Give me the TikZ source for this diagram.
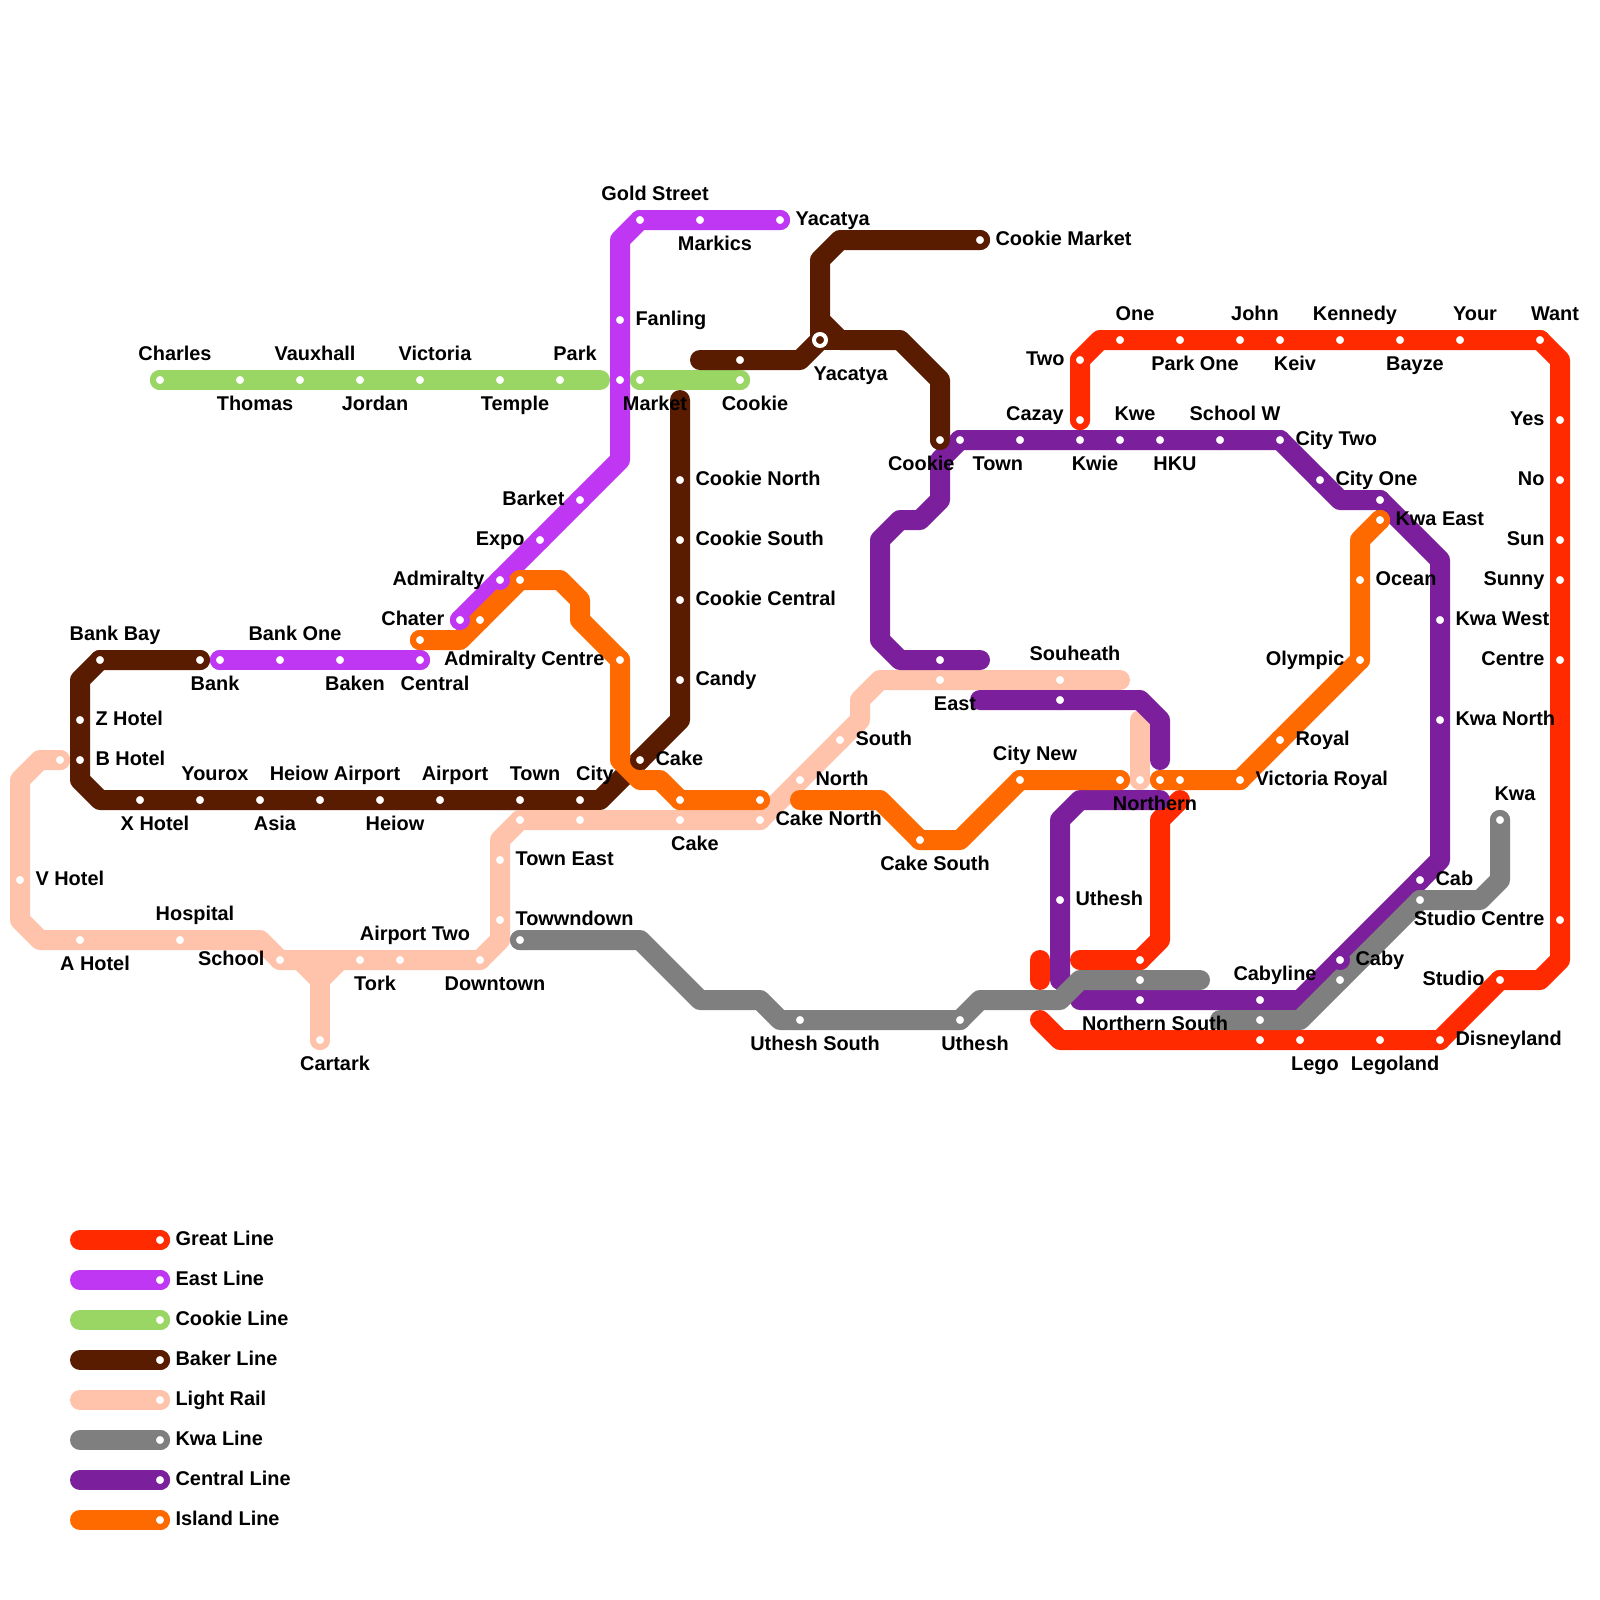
\documentclass[tikz,border=0pt]{standalone}
\usepackage{fontspec}
\setmainfont{Liberation Sans}
\definecolor{great}{HTML}{FF2A00}
\definecolor{east}{HTML}{BF37F2}
\definecolor{cookie}{HTML}{99D663}
\definecolor{baker}{HTML}{5A1C00}
\definecolor{light}{HTML}{FFC2AB}
\definecolor{kwa}{HTML}{7F7F7F}
\definecolor{central}{HTML}{7B1F9C}
\definecolor{island}{HTML}{FF6A00}
\begin{document}
\begin{tikzpicture}[x=0.25cm,y=-0.25cm,
  font=\bfseries\fontsize{7.08pt}{8.5pt}\selectfont,
  ln/.style={draw=#1,line width=0.25cm,line cap=round,line join=round},
  stn/.style={circle,fill=white,draw=#1,line width=0.075cm,minimum size=0.175cm,inner sep=0pt},
  ichg/.style={circle,fill=baker,draw=white,line width=0.05cm,minimum size=0.15cm,inner sep=0pt},
  lbl/.style={inner sep=0pt,text=black},
  lbla/.style={lbl,anchor=base,xshift=0.1875cm,yshift=0.25cm},
  lblb/.style={lbl,anchor=base,xshift=0.1875cm,yshift=-0.375cm},
  lblr/.style={lbl,anchor=base west,xshift=0.1875cm,yshift=-0.0625cm},
  lbll/.style={lbl,anchor=base east,xshift=-0.1875cm,yshift=-0.0625cm},
  lblbl/.style={lbl,anchor=base east,xshift=0.1875cm,yshift=-0.375cm},
  lblbr/.style={lbl,anchor=base west,xshift=0.15cm,yshift=-0.375cm}]
\path[use as bounding box,fill=white] (0,0) rectangle (80,80);
% lines
\draw[ln=great] (54,21) -- (54,18) -- (55,17) -- (77,17) -- (78,18) -- (78,48) -- (77,49) -- (75,49) -- (72,52) -- (53,52) -- (52,51);
\draw[ln=great] (52,48) -- (52,49);
\draw[ln=great] (59,40) -- (58,41) -- (58,47) -- (57,48) -- (54,48);
\draw[ln=east] (39,11) -- (32,11) -- (31,12) -- (31,23) -- (23,31);
\draw[ln=east] (11,33) -- (21,33);
\draw[ln=cookie] (8,19) -- (30,19);
\draw[ln=cookie] (32,19) -- (37,19);
\draw[ln=baker] (10,33) -- (5,33) -- (4,34) -- (4,39) -- (5,40) -- (30,40) -- (34,36) -- (34,20);
\draw[ln=baker] (35,18) -- (40,18) -- (41,17);
\draw[ln=baker] (49,12) -- (42,12) -- (41,13) -- (41,16) -- (42,17) -- (45,17) -- (47,19) -- (47,22);
\draw[ln=baker] (41,16) -- (41,17) -- (42,17);
\draw[ln=light] (3,38) -- (2,38) -- (1,39) -- (1,46) -- (2,47) -- (13,47) -- (14,48) -- (24,48) -- (25,47) -- (25,42) -- (26,41) -- (38,41) -- (43,36) -- (43,35) -- (44,34) -- (56,34);
\draw[ln=light] (15,48) -- (16,49) -- (17,48);
\draw[ln=light] (16,49) -- (16,52);
\draw[ln=light] (57,36) -- (57,39);
\draw[ln=central] (48,22) -- (47,23) -- (47,25) -- (46,26) -- (45,26) -- (44,27) -- (44,32) -- (45,33) -- (49,33);
\draw[ln=central] (48,22) -- (64,22) -- (67,25) -- (69,25) -- (72,28) -- (72,43) -- (65,50) -- (54,50);
\draw[ln=central] (49,35) -- (57,35) -- (58,36) -- (58,38);
\draw[ln=central] (53,49) -- (53,41) -- (54,40) -- (58,40);
\draw[ln=kwa] (26,47) -- (32,47) -- (35,50) -- (38,50) -- (39,51) -- (48,51) -- (49,50) -- (53,50) -- (54,49) -- (60,49);
\draw[ln=kwa] (61,51) -- (65,51) -- (71,45) -- (74,45) -- (75,44) -- (75,41);
\draw[ln=island] (21,32) -- (23,32) -- (26,29) -- (28,29) -- (29,30) -- (29,31) -- (31,33) -- (31,38) -- (32,39) -- (33,39) -- (34,40) -- (38,40);
\draw[ln=island] (40,40) -- (44,40) -- (46,42) -- (48,42) -- (51,39) -- (56,39);
\draw[ln=island] (58,39) -- (62,39) -- (68,33) -- (68,27) -- (69,26);
% great line
\node[stn=great] (two) at (54,18) {}; \node[lbll] (twot) at (two) {Two};
\node[stn=great] (greatc) at (54,21) {};
\node[stn=great] (one) at (56,17) {}; \node[lbla] (onet) at (one) {One};
\node[stn=great] (parkone) at (59,17) {}; \node[lblb] (parkonet) at (parkone) {Park One};
\node[stn=great] (john) at (62,17) {}; \node[lbla] (johnt) at (john) {John};
\node[stn=great] (keiv) at (64,17) {}; \node[lblb] (keivt) at (keiv) {Keiv};
\node[stn=great] (kennedy) at (67,17) {}; \node[lbla] (kennedyt) at (kennedy) {Kennedy};
\node[stn=great] (bayze) at (70,17) {}; \node[lblb] (bayzet) at (bayze) {Bayze};
\node[stn=great] (your) at (73,17) {}; \node[lbla] (yourt) at (your) {Your};
\node[stn=great] (want) at (77,17) {}; \node[lbla] (wantt) at (want) {Want};
\node[stn=great] (yes) at (78,21) {}; \node[lbll] (yest) at (yes) {Yes};
\node[stn=great] (no) at (78,24) {}; \node[lbll] (not) at (no) {No};
\node[stn=great] (sun) at (78,27) {}; \node[lbll] (sunt) at (sun) {Sun};
\node[stn=great] (sunny) at (78,29) {}; \node[lbll] (sunnyt) at (sunny) {Sunny};
\node[stn=great] (centre) at (78,33) {}; \node[lbll] (centret) at (centre) {Centre};
\node[stn=great] (studioc) at (78,46) {}; \node[lbll] (studioct) at (studioc) {Studio Centre};
\node[stn=great] (studio) at (75,49) {}; \node[lbll] (studiot) at (studio) {Studio};
\node[stn=great] (disney) at (72,52) {}; \node[lblr] (disneyt) at (disney) {Disneyland};
\node[stn=great] (legoland) at (69,52) {}; \node[lblb] (legolandt) at (legoland) {Legoland};
\node[stn=great] (lego) at (65,52) {}; \node[lblb] (legot) at (lego) {Lego};
\node[stn=great] (greats) at (63,52) {};
\node[stn=great] (greatn) at (57,48) {};
% east line
\node[stn=east] (gold) at (32,11) {}; \node[lbla] (goldt) at (gold) {Gold Street};
\node[stn=east] (markics) at (35,11) {}; \node[lblb] (markicst) at (markics) {Markics};
\node[stn=east] (yacatyae) at (39,11) {}; \node[lblr] (yacatyaet) at (yacatyae) {Yacatya};
\node[stn=east] (fanling) at (31,16) {}; \node[lblr] (fanlingt) at (fanling) {Fanling};
\node[stn=east] (eastm) at (31,19) {};
\node[stn=east] (barket) at (29,25) {}; \node[lbll] (barkett) at (barket) {Barket};
\node[stn=east] (expo) at (27,27) {}; \node[lbll] (expot) at (expo) {Expo};
\node[stn=east] (admiralty) at (25,29) {}; \node[lbll] (admiraltyt) at (admiralty) {Admiralty};
\node[stn=east] (chater) at (23,31) {}; \node[lbll] (chatert) at (chater) {Chater};
\node[stn=east] (eastb) at (11,33) {};
\node[stn=east] (bankone) at (14,33) {}; \node[lbla] (bankonet) at (bankone) {Bank One};
\node[stn=east] (baken) at (17,33) {}; \node[lblb] (bakent) at (baken) {Baken};
\node[stn=east] (centrale) at (21,33) {}; \node[lblb] (centralet) at (centrale) {Central};
% cookie line
\node[stn=cookie] (charles) at (8,19) {}; \node[lbla] (charlest) at (charles) {Charles};
\node[stn=cookie] (thomas) at (12,19) {}; \node[lblb] (thomast) at (thomas) {Thomas};
\node[stn=cookie] (vauxhall) at (15,19) {}; \node[lbla] (vauxhallt) at (vauxhall) {Vauxhall};
\node[stn=cookie] (jordan) at (18,19) {}; \node[lblb] (jordant) at (jordan) {Jordan};
\node[stn=cookie] (victoria) at (21,19) {}; \node[lbla] (victoriat) at (victoria) {Victoria};
\node[stn=cookie] (temple) at (25,19) {}; \node[lblb] (templet) at (temple) {Temple};
\node[stn=cookie] (park) at (28,19) {}; \node[lbla] (parkt) at (park) {Park};
\node[stn=cookie] (market) at (32,19) {}; \node[lblb] (markett) at (market) {Market};
\node[stn=cookie] (cookiec) at (37,19) {}; \node[lblb] (cookiect) at (cookiec) {Cookie};
% baker line
\node[stn=baker] (bankbay) at (5,33) {}; \node[lbla] (bankbayt) at (bankbay) {Bank Bay};
\node[stn=baker] (bank) at (10,33) {}; \node[lblb] (bankt) at (bank) {Bank};
\node[stn=baker] (zhotel) at (4,36) {}; \node[lblr] (zhotelt) at (zhotel) {Z Hotel};
\node[stn=baker] (bhotel) at (4,38) {}; \node[lblr] (bhotelt) at (bhotel) {B Hotel};
\node[stn=baker] (xhotel) at (7,40) {}; \node[lblb] (xhotelt) at (xhotel) {X Hotel};
\node[stn=baker] (yourox) at (10,40) {}; \node[lbla] (youroxt) at (yourox) {Yourox};
\node[stn=baker] (asia) at (13,40) {}; \node[lblb] (asiat) at (asia) {Asia};
\node[stn=baker] (heiowa) at (16,40) {}; \node[lbla] (heiowat) at (heiowa) {Heiow Airport};
\node[stn=baker] (heiow) at (19,40) {}; \node[lblb] (heiowt) at (heiow) {Heiow};
\node[stn=baker] (airport) at (22,40) {}; \node[lbla] (airportt) at (airport) {Airport};
\node[stn=baker] (townb) at (26,40) {}; \node[lbla] (townbt) at (townb) {Town};
\node[stn=baker] (city) at (29,40) {}; \node[lbla] (cityt) at (city) {City};
\node[stn=baker] (cakeb) at (32,38) {}; \node[lblr] (cakebt) at (cakeb) {Cake};
\node[stn=baker] (candy) at (34,34) {}; \node[lblr] (candyt) at (candy) {Candy};
\node[stn=baker] (cookiecen) at (34,30) {}; \node[lblr] (cookiecent) at (cookiecen) {Cookie Central};
\node[stn=baker] (cookies) at (34,27) {}; \node[lblr] (cookiest) at (cookies) {Cookie South};
\node[stn=baker] (cookien) at (34,24) {}; \node[lblr] (cookient) at (cookien) {Cookie North};
\node[stn=baker] (bakern) at (37,18) {};
\node[ichg] (yacatyab) at (41,17) {}; \node[lbl,anchor=base west,xshift=-0.0875cm,yshift=-0.5cm] (yacatyabt) at (yacatyab) {Yacatya};
\node[stn=baker] (cookiem) at (49,12) {}; \node[lblr] (cookiemt) at (cookiem) {Cookie Market};
\node[stn=baker] (cookieb) at (47,22) {}; \node[lblbl] (cookiebt) at (cookieb) {Cookie};
% light rail
\node[stn=light] (lightv) at (3,38) {};
\node[stn=light] (vhotel) at (1,44) {}; \node[lblr] (vhotelt) at (vhotel) {V Hotel};
\node[stn=light] (ahotel) at (4,47) {}; \node[lblb] (ahotelt) at (ahotel) {A Hotel};
\node[stn=light] (hospital) at (9,47) {}; \node[lbla] (hospitalt) at (hospital) {Hospital};
\node[stn=light] (school) at (14,48) {}; \node[lbll] (schoolt) at (school) {School};
\node[stn=light] (tork) at (18,48) {}; \node[lblb] (torkt) at (tork) {Tork};
\node[stn=light] (airporttwo) at (20,48) {}; \node[lbla] (airporttwot) at (airporttwo) {Airport Two};
\node[stn=light] (downtown) at (24,48) {}; \node[lblb] (downtownt) at (downtown) {Downtown};
\node[stn=light] (cartark) at (16,52) {}; \node[lblb] (cartarkt) at (cartark) {Cartark};
\node[stn=light] (towwn) at (25,46) {}; \node[lblr] (towwnt) at (towwn) {Towwndown};
\node[stn=light] (towneast) at (25,43) {}; \node[lblr] (towneastt) at (towneast) {Town East};
\node[stn=light] (lightt) at (26,41) {};
\node[stn=light] (lightc) at (29,41) {};
\node[stn=light] (cakel) at (34,41) {}; \node[lblb] (cakelt) at (cakel) {Cake};
\node[stn=light] (caken) at (38,41) {}; \node[lblr] (cakent) at (caken) {Cake North};
\node[stn=light] (north) at (40,39) {}; \node[lblr] (northt) at (north) {North};
\node[stn=light] (south) at (42,37) {}; \node[lblr] (southt) at (south) {South};
\node[stn=light] (eastl) at (47,34) {}; \node[lblb] (eastlt) at (eastl) {East};
\node[stn=light] (souheath) at (53,34) {}; \node[lbla] (souheatht) at (souheath) {Souheath};
\node[stn=light] (northern) at (57,39) {}; \node[lblb] (northernt) at (northern) {Northern};
% central line
\node[stn=central] (townc) at (48,22) {}; \node[lblbr] (towenct) at (townc) {Town};
\node[stn=central] (cazay) at (51,22) {}; \node[lbla] (cazayt) at (cazay) {Cazay};
\node[stn=central] (kwie) at (54,22) {}; \node[lblb] (kwiet) at (kwie) {Kwie};
\node[stn=central] (kwe) at (56,22) {}; \node[lbla] (kwet) at (kwe) {Kwe};
\node[stn=central] (hku) at (58,22) {}; \node[lblb] (hkut) at (hku) {HKU};
\node[stn=central] (schoolw) at (61,22) {}; \node[lbla] (schoolwt) at (schoolw) {School W};
\node[stn=central] (citytwo) at (64,22) {}; \node[lblr] (citytwot) at (citytwo) {City Two};
\node[stn=central] (cityone) at (66,24) {}; \node[lblr] (cityonet) at (cityone) {City One};
\node[stn=central] (centralk) at (69,25) {};
\node[stn=central] (kwawest) at (72,31) {}; \node[lblr] (kwawestt) at (kwawest) {Kwa West};
\node[stn=central] (kwanorth) at (72,36) {}; \node[lblr] (kwanortht) at (kwanorth) {Kwa North};
\node[stn=central] (cab) at (71,44) {}; \node[lblr] (cabt) at (cab) {Cab};
\node[stn=central] (caby) at (67,48) {}; \node[lblr] (cabyt) at (caby) {Caby};
\node[stn=central] (cabyline) at (63,50) {}; \node[lbla] (cabylinet) at (cabyline) {Cabyline};
\node[stn=central] (norths) at (57,50) {}; \node[lblb] (northst) at (norths) {Northern South};
\node[stn=central] (uthesh) at (53,45) {}; \node[lblr] (uthesht) at (uthesh) {Uthesh};
\node[stn=central] (centrals) at (53,35) {};
\node[stn=central] (centrale2) at (47,33) {};
% kwa line
\node[stn=kwa] (kwat) at (26,47) {};
\node[stn=kwa] (utheshs) at (40,51) {}; \node[lblb] (utheshst) at (utheshs) {Uthesh South};
\node[stn=kwa] (utheshk) at (48,51) {}; \node[lblb] (utheshkt) at (utheshk) {Uthesh};
\node[stn=kwa] (kwan) at (57,49) {};
\node[stn=kwa] (kwab) at (63,51) {};
\node[stn=kwa] (kwac) at (67,49) {};
\node[stn=kwa] (kwas) at (71,45) {};
\node[stn=kwa] (kwaend) at (75,41) {}; \node[lbla] (kwaendt) at (kwaend) {Kwa};
% island line
\node[stn=island] (islandw) at (21,32) {};
\node[stn=island] (islanda) at (24,31) {};
\node[stn=island] (islandb) at (26,29) {};
\node[stn=island] (admcentre) at (31,33) {}; \node[lbll] (admcentret) at (admcentre) {Admiralty Centre};
\node[stn=island] (islandc) at (34,40) {};
\node[stn=island] (islandd) at (38,40) {};
\node[stn=island] (cakes) at (46,42) {}; \node[lblb] (cakest) at (cakes) {Cake South};
\node[stn=island] (citynew) at (51,39) {}; \node[lbla] (citynewt) at (citynew) {City New};
\node[stn=island] (islande) at (56,39) {};
\node[stn=island] (islandf) at (58,39) {};
\node[stn=island] (islandg) at (59,39) {};
\node[stn=island] (vicroyal) at (62,39) {}; \node[lblr] (vicroyalt) at (vicroyal) {Victoria Royal};
\node[stn=island] (royal) at (64,37) {}; \node[lblr] (royalt) at (royal) {Royal};
\node[stn=island] (olympic) at (68,33) {}; \node[lbll] (olympict) at (olympic) {Olympic};
\node[stn=island] (ocean) at (68,29) {}; \node[lblr] (oceant) at (ocean) {Ocean};
\node[stn=island] (kwaeast) at (69,26) {}; \node[lblr] (kwaeastt) at (kwaeast) {Kwa East};
% key
\draw[ln=great] (4,62) -- (8,62);
\draw[ln=east] (4,64) -- (8,64);
\draw[ln=cookie] (4,66) -- (8,66);
\draw[ln=baker] (4,68) -- (8,68);
\draw[ln=light] (4,70) -- (8,70);
\draw[ln=kwa] (4,72) -- (8,72);
\draw[ln=central] (4,74) -- (8,74);
\draw[ln=island] (4,76) -- (8,76);
\node[stn=great] (key1) at (8,62) {}; \node[lblr] (key1t) at (key1) {Great Line};
\node[stn=east] (key2) at (8,64) {}; \node[lblr] (key2t) at (key2) {East Line};
\node[stn=cookie] (key3) at (8,66) {}; \node[lblr] (key3t) at (key3) {Cookie Line};
\node[stn=baker] (key4) at (8,68) {}; \node[lblr] (key4t) at (key4) {Baker Line};
\node[stn=light] (key5) at (8,70) {}; \node[lblr] (key5t) at (key5) {Light Rail};
\node[stn=kwa] (key6) at (8,72) {}; \node[lblr] (key6t) at (key6) {Kwa Line};
\node[stn=central] (key7) at (8,74) {}; \node[lblr] (key7t) at (key7) {Central Line};
\node[stn=island] (key8) at (8,76) {}; \node[lblr] (key8t) at (key8) {Island Line};
\end{tikzpicture}
\end{document}
